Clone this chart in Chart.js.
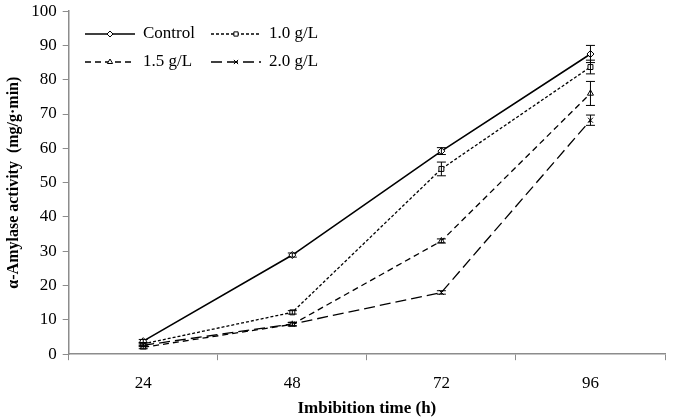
<!DOCTYPE html>
<html>
<head>
<meta charset="utf-8">
<script src="https://cdn.jsdelivr.net/npm/chart.js@4.4.0/dist/chart.umd.min.js"></script>
<style>
  html, body { margin: 0; padding: 0; background: #fff; }
  #wrap { width: 675px; height: 419px; }
</style>
</head>
<body>
<div id="wrap"><canvas id="amylaseChart"></canvas></div>
<script>
'use strict';

var categories = ['24', '48', '72', '96'];
var seriesNames = ['Control', '1.0 g/L', '1.5 g/L', '2.0 g/L'];
var control = [3.8, 28.9, 59.2, 87.5];
var conc10 = [3.0, 12.2, 54.0, 83.7];
var conc15 = [2.0, 8.7, 33.0, 76.0];
var conc20 = [2.6, 8.8, 18.0, 68.2];
var controlErr = [0.5, 0.6, 1.0, 2.5];
var conc10Err = [0.4, 0.5, 2.0, 2.0];
var conc15Err = [0.4, 0.5, 0.6, 3.5];
var conc20Err = [0.4, 0.5, 0.5, 1.5];
var yTicks = [0, 10, 20, 30, 40, 50, 60, 70, 80, 90, 100];

var serif = "'Liberation Serif', 'Times New Roman', serif";
var axisGray = '#8c8c8c';

function ds(label, data, errs, dash, style, width) {
    return {
        label: label,
        data: data,
        errors: errs,
        borderColor: '#000',
        borderWidth: width,
        borderDash: dash,
        pointStyle: style,
        pointRadius: 3.5,
        pointBackgroundColor: '#fff',
        pointBorderColor: '#000',
        pointBorderWidth: 1,
        tension: 0,
        fill: false
    };
}

var datasets = [
    ds(seriesNames[0], control, controlErr, [], 'rectRot', 1.6),
    ds(seriesNames[1], conc10, conc10Err, [3, 2], 'rect', 1.3),
    ds(seriesNames[2], conc15, conc15Err, [6, 4], 'triangle', 1.3),
    ds(seriesNames[3], conc20, conc20Err, [11, 5], 'crossRot', 1.3)
];

// error bars drawn from the y scale
var errorBars = {
    id: 'errorBars',
    afterDatasetsDraw: function (chart) {
        var ctx = chart.ctx;
        var y = chart.scales.y;
        ctx.save();
        ctx.strokeStyle = '#000';
        ctx.lineWidth = 1;
        chart.data.datasets.forEach(function (d, i) {
            var meta = chart.getDatasetMeta(i);
            meta.data.forEach(function (pt, j) {
                var e = d.errors[j];
                var top = y.getPixelForValue(d.data[j] + e);
                var bot = y.getPixelForValue(d.data[j] - e);
                ctx.beginPath();
                ctx.moveTo(pt.x, top); ctx.lineTo(pt.x, bot);
                ctx.moveTo(pt.x - 4.5, top); ctx.lineTo(pt.x + 4.5, top);
                ctx.moveTo(pt.x - 4.5, bot); ctx.lineTo(pt.x + 4.5, bot);
                ctx.stroke();
            });
        });
        ctx.restore();
    }
};

// legend inside the plot, two columns
var insideLegend = {
    id: 'insideLegend',
    afterDraw: function (chart) {
        var ctx = chart.ctx;
        var spots = [[85, 34], [211, 34], [85, 62], [211, 62]];
        ctx.save();
        ctx.font = '17px ' + serif;
        ctx.textBaseline = 'middle';
        chart.data.datasets.forEach(function (d, i) {
            var x = spots[i][0], yy = spots[i][1];
            ctx.strokeStyle = '#000';
            ctx.lineWidth = d.borderWidth;
            ctx.setLineDash(d.borderDash);
            ctx.beginPath();
            ctx.moveTo(x, yy); ctx.lineTo(x + 50, yy);
            ctx.stroke();
            ctx.setLineDash([]);
            ctx.lineWidth = 1;
            ctx.fillStyle = '#fff';
            Chart.helpers.drawPoint(ctx, {
                pointStyle: d.pointStyle, radius: 3, borderWidth: 1, rotation: 0
            }, x + 25, yy);
            ctx.fillStyle = '#000';
            ctx.fillText(d.label, x + 58, yy);
        });
        ctx.restore();
    }
};

new Chart(document.getElementById('amylaseChart'), {
    type: 'line',
    data: { labels: categories, datasets: datasets },
    plugins: [errorBars, insideLegend],
    options: {
        responsive: true,
        maintainAspectRatio: false,
        animation: false,
        layout: { padding: { top: 0, right: 10, left: 0, bottom: 0 } },
        plugins: { legend: { display: false }, tooltip: { enabled: false } },
        scales: {
            x: {
                offset: true,
                grid: { offset: true, drawOnChartArea: false, color: axisGray, tickLength: 6, tickColor: axisGray },
                border: { color: axisGray, width: 1.5 },
                ticks: { color: '#000', font: { family: serif, size: 17 }, padding: 13 },
                title: { display: true, text: 'Imbibition time (h)', color: '#000', font: { family: serif, size: 17, weight: 'bold' }, padding: { top: -8, bottom: 0 } }
            },
            y: {
                min: 0,
                max: 100,
                afterBuildTicks: function (axis) {
                    axis.ticks = yTicks.map(function (v) { return { value: v }; });
                },
                grid: { drawOnChartArea: false, color: axisGray, tickLength: 6, tickColor: axisGray },
                border: { color: axisGray, width: 1.5 },
                ticks: { color: '#000', font: { family: serif, size: 17, lineHeight: 0.6 }, padding: 6 },
                title: { display: true, text: 'α-Amylase activity  (mg/g·min)', color: '#000', font: { family: serif, size: 16, weight: 'bold' }, padding: { top: 4, bottom: 2 } }
            }
        }
    }
});
</script>
</body>
</html>
